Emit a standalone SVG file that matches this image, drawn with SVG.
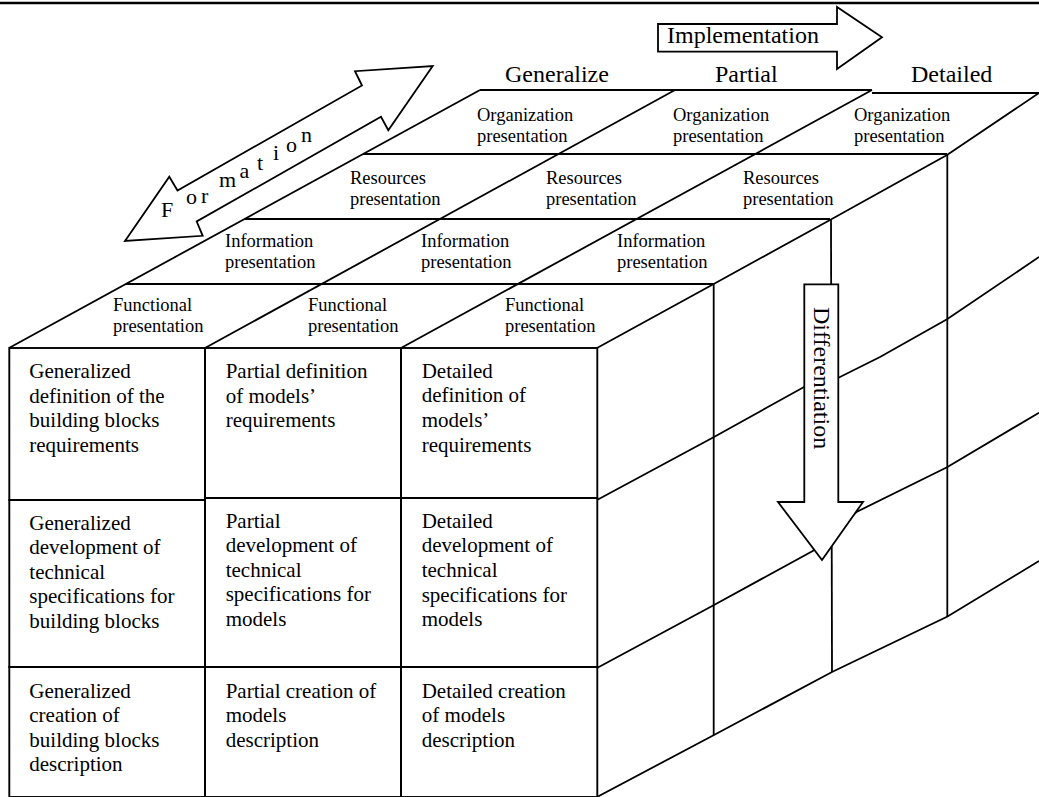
<svg xmlns="http://www.w3.org/2000/svg" width="1039" height="797" viewBox="0 0 1039 797">
<style>
  .ln { fill: none; stroke: #000; stroke-width: 1.8; stroke-linejoin: miter; }
  .cell { fill: none; stroke: #000; stroke-width: 1.9; }
  .arrow { fill: #fff; stroke: #000; stroke-width: 1.8; stroke-linejoin: miter; }
  text { font-family: "Liberation Serif", "Times New Roman", serif; fill: #000; }
  .hdr { font-size: 24px; }
  .top { font-size: 18.5px; }
  .front { font-size: 21px; }
  .form { font-size: 22px; }
</style>
<rect x="0" y="0" width="1039" height="797" fill="#fff"/>
<line x1="0" y1="3" x2="1039" y2="3" stroke="#000" stroke-width="2.6"/>

<g id="connectors">
  <!-- top face outline and grid -->
  <polyline class="ln" points="480,90 872,90"/>
  <polyline class="ln" points="872,93 1039,93"/>
  <line class="ln" x1="480" y1="90" x2="9" y2="348"/>
  <line class="ln" x1="675" y1="90" x2="205" y2="348"/>
  <line class="ln" x1="872" y1="90" x2="401" y2="348"/>
  <polyline class="ln" points="1039,93 947,155 830,220 713.7,284 597,348"/>
  <line class="ln" x1="363" y1="154" x2="947" y2="154"/>
  <line class="ln" x1="245" y1="219" x2="830" y2="219"/>
  <line class="ln" x1="126" y1="284" x2="713.7" y2="284"/>
  <!-- side face -->
  <line class="ln" x1="713.7" y1="284" x2="713.7" y2="735"/>
  <line class="ln" x1="831" y1="220" x2="832" y2="672"/>
  <line class="ln" x1="947.3" y1="155" x2="947.3" y2="616.5"/>
  <polyline class="ln" points="597,500 714,437 804,387 838,378 880,357 947,319.3 1039,257"/>
  <polyline class="ln" points="597,668 714,605 812.7,551 857,511.7 947,467.3 1039,412.7"/>
  <polyline class="ln" points="597,797 714,735 832,672 947.5,616.5 1039,561"/>
</g>

<g id="front-face">
  <g id="cell-gen-def">
    <rect class="cell" x="9.3" y="348" width="195.7" height="152"/>
    <text class="front" x="29.3" y="378.3">Generalized</text>
    <text class="front" x="29.3" y="402.7">definition of the</text>
    <text class="front" x="29.3" y="427.3">building blocks</text>
    <text class="front" x="29.3" y="451.7">requirements</text>
  </g>
  <g id="cell-par-def">
    <rect class="cell" x="205" y="348" width="196" height="150"/>
    <text class="front" x="225.7" y="378.3">Partial definition</text>
    <text class="front" x="225.7" y="402.7">of models’</text>
    <text class="front" x="225.7" y="427.3">requirements</text>
  </g>
  <g id="cell-det-def">
    <rect class="cell" x="401" y="348" width="196.3" height="150"/>
    <text class="front" x="421.7" y="377.5">Detailed</text>
    <text class="front" x="421.7" y="402">definition of</text>
    <text class="front" x="421.7" y="427.3">models’</text>
    <text class="front" x="421.7" y="451.7">requirements</text>
  </g>
  <g id="cell-gen-dev">
    <rect class="cell" x="9.3" y="500" width="195.7" height="167"/>
    <text class="front" x="29.3" y="530">Generalized</text>
    <text class="front" x="29.3" y="554.3">development of</text>
    <text class="front" x="29.3" y="579">technical</text>
    <text class="front" x="29.3" y="603.3">specifications for</text>
    <text class="front" x="29.3" y="628.3">building blocks</text>
  </g>
  <g id="cell-par-dev">
    <rect class="cell" x="205" y="498" width="196" height="169"/>
    <text class="front" x="225.7" y="528.3">Partial</text>
    <text class="front" x="225.7" y="552.3">development of</text>
    <text class="front" x="225.7" y="576.7">technical</text>
    <text class="front" x="225.7" y="601">specifications for</text>
    <text class="front" x="225.7" y="626">models</text>
  </g>
  <g id="cell-det-dev">
    <rect class="cell" x="401" y="498" width="196.3" height="169"/>
    <text class="front" x="421.7" y="527.7">Detailed</text>
    <text class="front" x="421.7" y="552.3">development of</text>
    <text class="front" x="421.7" y="577.3">technical</text>
    <text class="front" x="421.7" y="601.7">specifications for</text>
    <text class="front" x="421.7" y="626">models</text>
  </g>
  <g id="cell-gen-cre">
    <rect class="cell" x="9.3" y="667" width="195.7" height="130"/>
    <text class="front" x="29.3" y="697.7">Generalized</text>
    <text class="front" x="29.3" y="722">creation of</text>
    <text class="front" x="29.3" y="746.7">building blocks</text>
    <text class="front" x="29.3" y="771">description</text>
  </g>
  <g id="cell-par-cre">
    <rect class="cell" x="205" y="667" width="196" height="130"/>
    <text class="front" x="225.7" y="697.7">Partial creation of</text>
    <text class="front" x="225.7" y="722">models</text>
    <text class="front" x="225.7" y="746.7">description</text>
  </g>
  <g id="cell-det-cre">
    <rect class="cell" x="401" y="667" width="196.3" height="130"/>
    <text class="front" x="421.7" y="697.7">Detailed creation</text>
    <text class="front" x="421.7" y="722">of models</text>
    <text class="front" x="421.7" y="746.7">description</text>
  </g>
</g>

<g id="top-face">
  <g id="org-1"><text class="top" x="477" y="120.7">Organization</text><text class="top" x="477" y="141.7">presentation</text></g>
  <g id="org-2"><text class="top" x="673" y="120.7">Organization</text><text class="top" x="673" y="141.7">presentation</text></g>
  <g id="org-3"><text class="top" x="854" y="120.7">Organization</text><text class="top" x="854" y="141.7">presentation</text></g>
  <g id="res-1"><text class="top" x="350" y="184.3">Resources</text><text class="top" x="350" y="205">presentation</text></g>
  <g id="res-2"><text class="top" x="546" y="184.3">Resources</text><text class="top" x="546" y="205">presentation</text></g>
  <g id="res-3"><text class="top" x="743" y="184.3">Resources</text><text class="top" x="743" y="205">presentation</text></g>
  <g id="inf-1"><text class="top" x="225" y="246.7">Information</text><text class="top" x="225" y="268">presentation</text></g>
  <g id="inf-2"><text class="top" x="421" y="246.7">Information</text><text class="top" x="421" y="268">presentation</text></g>
  <g id="inf-3"><text class="top" x="617" y="246.7">Information</text><text class="top" x="617" y="268">presentation</text></g>
  <g id="fun-1"><text class="top" x="113" y="311">Functional</text><text class="top" x="113" y="332">presentation</text></g>
  <g id="fun-2"><text class="top" x="308" y="311">Functional</text><text class="top" x="308" y="332">presentation</text></g>
  <g id="fun-3"><text class="top" x="505" y="311">Functional</text><text class="top" x="505" y="332">presentation</text></g>
</g>

<g id="headers">
  <text class="hdr" x="505" y="82">Generalize</text>
  <text class="hdr" x="715" y="82">Partial</text>
  <text class="hdr" x="911" y="82">Detailed</text>
</g>

<g id="implementation-arrow">
  <polygon class="arrow" points="658,24 837,24 837,7 882,37.3 837,69 837,51.7 658,51.7"/>
  <text class="hdr" x="667" y="43.3">Implementation</text>
</g>

<g id="formation-arrow">
  <polygon class="arrow" points="125,241 169.3,176.7 177.5,190.5 362,85.5 355,71.2 432.7,66 388.3,130.3 381,116.7 196.7,221.5 202.7,235.8"/>
  <text class="form" x="161" y="216.7">F</text>
  <text class="form" x="186" y="203.5">o</text>
  <text class="form" x="201" y="202.5">r</text>
  <text class="form" x="219" y="186.7">m</text>
  <text class="form" x="239.5" y="178.3">a</text>
  <text class="form" x="257" y="170">t</text>
  <text class="form" x="273" y="160">i</text>
  <text class="form" x="286" y="151.7">o</text>
  <text class="form" x="301" y="141.7">n</text>
</g>

<g id="differentiation-arrow">
  <polygon class="arrow" points="804.3,284.3 838.3,284.3 838.3,502 863,502 822,560 778,502 804.3,502"/>
  <text class="hdr" transform="translate(814,307) rotate(90)" x="0" y="0">Differentiation</text>
</g>
</svg>
